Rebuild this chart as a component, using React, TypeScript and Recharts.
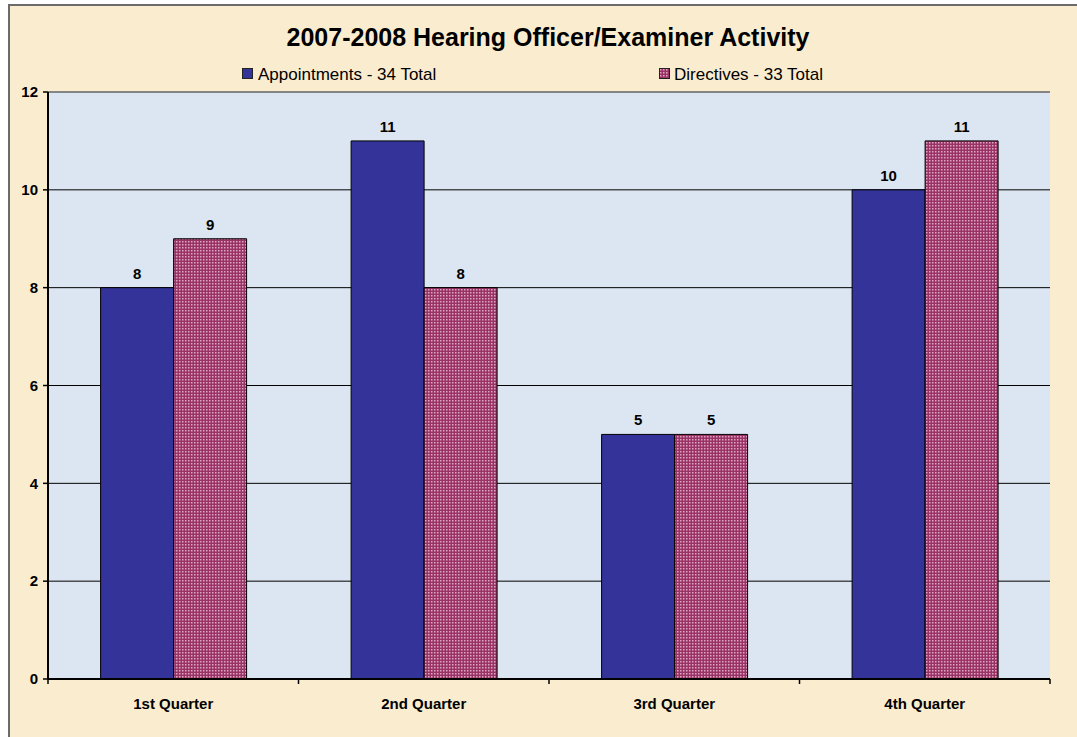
import React from 'react';
import { BarChart, Bar, XAxis, YAxis, CartesianGrid, LabelList, ReferenceLine, Legend } from 'recharts';

const quarters = ['1st Quarter', '2nd Quarter', '3rd Quarter', '4th Quarter'];
const appointments = [8, 11, 5, 10];
const directives = [9, 8, 5, 11];
const yTicks = [0, 2, 4, 6, 8, 10, 12];
const seriesNames = ['Appointments - 34 Total', 'Directives - 33 Total'];
const chartTitle = '2007-2008 Hearing Officer/Examiner Activity';

const data = quarters.map((q, i) => ({ quarter: q, appointments: appointments[i], directives: directives[i] }));

const FONT = '"Liberation Sans", Arial, sans-serif';
const BLUE = '#333399';
const PINK = '#993366';
const DOT = '#DFA6C2';

const PatternDef = ({ id }: { id: string }) => (
  <pattern id={id} width={3} height={3} patternUnits="userSpaceOnUse">
    <rect x={0} y={0} width={3} height={3} fill={PINK} />
    <rect x={1} y={1} width={1.5} height={1.5} fill={DOT} />
  </pattern>
);

const XTick = (props: any) => {
  const { x, y, payload, index, visibleTicksCount } = props;
  const half = payload && payload.offset ? payload.offset : 0;
  const isLast = index === (visibleTicksCount ?? 4) - 1;
  return (
    <g>
      <line x1={x - half} x2={x - half} y1={y} y2={y + 5} stroke="#000" strokeWidth={1.5} />
      {isLast && <line x1={x + half} x2={x + half} y1={y} y2={y + 5} stroke="#000" strokeWidth={1.5} />}
      <text x={x} y={y + 30} textAnchor="middle" fontFamily={FONT} fontWeight="bold" fontSize={15} fill="#000">
        {payload.value}
      </text>
    </g>
  );
};

const LegendContent = () => {
  const items = [
    { name: seriesNames[0], sq: 232, tx: 248, kind: 'blue' },
    { name: seriesNames[1], sq: 649, tx: 664, kind: 'pink' },
  ];
  return (
    <div style={{ position: 'relative', height: 0, width: 0 }}>
      {items.map((it) => (
        <React.Fragment key={it.name}>
          <svg width={11} height={11} style={{ position: 'absolute', left: it.sq, top: 62, overflow: 'visible' }}>
            <defs>
              <PatternDef id="legendDots" />
            </defs>
            <rect x={0.5} y={0.5} width={10} height={10} fill={it.kind === 'blue' ? BLUE : 'url(#legendDots)'} stroke="#222" strokeWidth={1} />
          </svg>
          <div
            style={{
              position: 'absolute',
              left: it.tx,
              top: 59.6,
              fontFamily: FONT,
              fontSize: 17,
              lineHeight: '17px',
              whiteSpace: 'nowrap',
              color: '#000',
            }}
          >
            {it.name}
          </div>
        </React.Fragment>
      ))}
    </div>
  );
};

export default function App() {
  return (
    <div
      style={{
        position: 'fixed',
        left: 8,
        top: 4,
        width: 1069,
        height: 733,
        boxSizing: 'border-box',
        borderLeft: '2px solid #6b6b6b',
        borderTop: '2px solid #6b6b6b',
        background: '#FAEDCF',
        overflow: 'hidden',
      }}
    >
      <div
        style={{
          position: 'absolute',
          left: 0,
          top: 18.8,
          width: 1076,
          textAlign: 'center',
          fontFamily: FONT,
          fontWeight: 'bold',
          fontSize: 25,
          lineHeight: '25px',
          color: '#000',
          whiteSpace: 'nowrap',
        }}
      >
        {chartTitle}
      </div>
      <div style={{ position: 'absolute', left: 0, top: 0 }}>
        <BarChart
          width={1067}
          height={731}
          data={data}
          margin={{ top: 86, right: 27, left: 0, bottom: 18 }}
          barCategoryGap="21%"
          barGap={0}
        >
          <defs>
            <PatternDef id="pinkDots" />
          </defs>
          <CartesianGrid yAxisId="left" vertical={false} stroke="#000" strokeWidth={1} fill="#DCE6F2" fillOpacity={1} />
          <XAxis
            dataKey="quarter"
            yAxisId="left"
            height={40}
            tickSize={0}
            tickMargin={0}
            tickLine={false}
            axisLine={{ stroke: '#000', strokeWidth: 2 }}
            tick={<XTick />}
            interval={0}
          />
          <YAxis
            yAxisId="left"
            width={38}
            domain={[0, 12]}
            ticks={yTicks}
            interval={0}
            tickSize={5}
            tickMargin={5}
            tickLine={{ stroke: '#000', strokeWidth: 1.5 }}
            axisLine={{ stroke: '#000', strokeWidth: 2 }}
            tick={{ fontFamily: FONT, fontWeight: 'bold', fontSize: 15, fill: '#000' }}
          />
          <YAxis
            yAxisId="right"
            orientation="right"
            width={0}
            domain={[0, 12]}
            tick={false}
            tickLine={false}
            axisLine={{ stroke: '#8a8a8a', strokeWidth: 1.5 }}
          />
          <ReferenceLine yAxisId="left" y={12} stroke="#8a8a8a" strokeWidth={1.5} />
          <Legend
            content={<LegendContent />}
            wrapperStyle={{ left: 0, top: 0, width: 0, height: 0 }}
          />
          <Bar yAxisId="left" dataKey="appointments" name={seriesNames[0]} fill={BLUE} stroke="#000" strokeWidth={1} isAnimationActive={false}>
            <LabelList dataKey="appointments" position="top" offset={9} fill="#000" fontFamily={FONT} fontWeight="bold" fontSize={15} />
          </Bar>
          <Bar yAxisId="left" dataKey="directives" name={seriesNames[1]} fill="url(#pinkDots)" stroke="#000" strokeWidth={1} isAnimationActive={false}>
            <LabelList dataKey="directives" position="top" offset={9} fill="#000" fontFamily={FONT} fontWeight="bold" fontSize={15} />
          </Bar>
        </BarChart>
      </div>
    </div>
  );
}
